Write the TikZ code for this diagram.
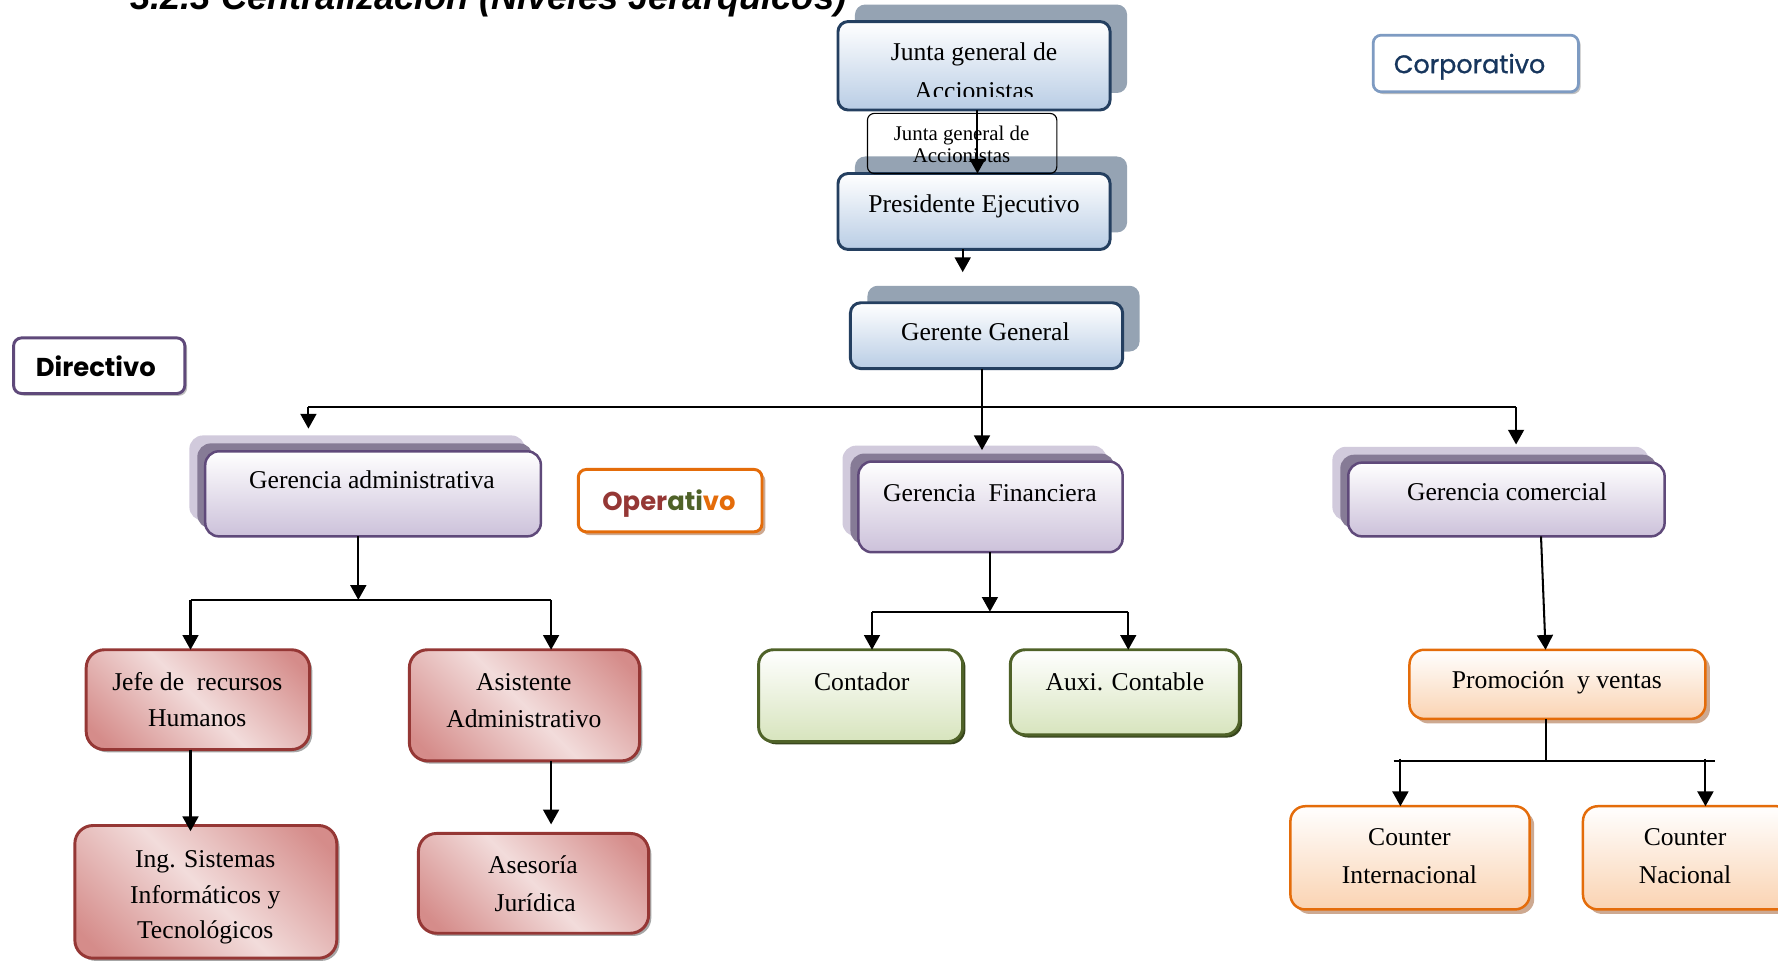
\documentclass[tikz,border=0pt]{standalone}
\usepackage{fontspec}
\setmainfont{Liberation Serif}
\newfontfamily\titlefont{Liberation Sans}
\newfontfamily\tagfont{Poppins}
\newfontfamily\tagsemi[FakeBold=1]{Poppins}
\usetikzlibrary{arrows.meta,shadows}

% palette
\definecolor{blueEdge}{HTML}{243F60}
\definecolor{blueFill}{HTML}{B9CDE5}
\definecolor{blueShade}{HTML}{95A3B3}
\definecolor{purpEdge}{HTML}{5F497A}
\definecolor{purpFill}{HTML}{CCC1DA}
\definecolor{purpDark}{HTML}{867B96}
\definecolor{purpLight}{HTML}{D1CADC}
\definecolor{redEdge}{HTML}{953735}
\definecolor{redLight}{HTML}{F2DCDB}
\definecolor{redDark}{HTML}{D58C8A}
\definecolor{greenEdge}{HTML}{4F6228}
\definecolor{greenFill}{HTML}{D7E4BD}
\definecolor{orangeEdge}{HTML}{E46C0A}
\definecolor{orangeFill}{HTML}{FAD3B2}
\definecolor{orangeShade}{HTML}{CDA991}
\definecolor{corpEdge}{HTML}{7E9BC2}
\definecolor{corpText}{HTML}{17365D}
\definecolor{operRed}{HTML}{953735}
\definecolor{operGreen}{HTML}{4F6228}

\pgfdeclarehorizontalshading{redsheen}{100bp}{color(0bp)=(redDark); color(20bp)=(redDark); color(50bp)=(redLight); color(80bp)=(redDark); color(100bp)=(redDark)}

% box from its corners: name, style, x1, y1, x2, y2
\newcommand\mkbox[6]{%
  \pgfmathsetmacro\bxc{(#3+#5)/2}\pgfmathsetmacro\byc{(#4+#6)/2}%
  \pgfmathsetmacro\bxw{(#5-#3)*0.5}\pgfmathsetmacro\bxh{(#6-#4)*0.5}%
  \node[#2, minimum width=\bxw pt, minimum height=\bxh pt] (#1) at (\bxc,\byc) {};}

\tikzset{
  every node/.style={inner sep=0pt, outer sep=0pt},
  bluebox/.style={draw=blueEdge, line width=1.3pt, rounded corners=4.5pt,
    top color=white, bottom color=blueFill,
    general shadow={shadow xshift=7.5pt, shadow yshift=7.5pt, fill=blueShade}},
  purplebox/.style={draw=purpEdge, line width=1.1pt, rounded corners=6pt,
    top color=white, bottom color=purpFill,
    general shadow={shadow xshift=-7pt, shadow yshift=7pt, fill=purpLight},
    general shadow={shadow xshift=-3.5pt, shadow yshift=3.5pt, fill=purpDark}},
  redbox/.style={draw=redEdge, line width=1.3pt, rounded corners=8pt,
    shade, shading=redsheen, shading angle=45,
    general shadow={shadow xshift=1.2pt, shadow yshift=-1.2pt, fill=black!35}},
  greenbox/.style={draw=greenEdge, line width=1.3pt, rounded corners=6.5pt,
    top color=white, bottom color=greenFill,
    general shadow={shadow xshift=1.2pt, shadow yshift=-1.2pt, fill=greenEdge!70!black}},
  orangebox/.style={draw=orangeEdge, line width=1.1pt, rounded corners=6.5pt,
    top color=white, bottom color=orangeFill,
    general shadow={shadow xshift=2pt, shadow yshift=-2pt, fill=orangeShade}},
  notebox/.style={draw=black, line width=0.5pt, rounded corners=3pt},
  tagbox/.style={line width=1.3pt, rounded corners=3.5pt, fill=white,
    general shadow={shadow xshift=1pt, shadow yshift=-1pt, fill=black!25}},
  txt/.style={anchor=base, font=\fontsize{11.3}{13}\selectfont},
  smalltxt/.style={anchor=base, font=\fontsize{9.2}{11}\selectfont},
  tagtxt/.style={anchor=base, font=\tagfont\fontsize{11.4}{13}\selectfont},
  link/.style={line width=0.9pt, draw=black},
  busline/.style={line width=0.7pt, draw=black},
  arr/.style={link, -{Triangle[width=7pt,length=6.5pt]}},
}

\begin{document}
\begin{tikzpicture}[x=0.5pt,y=-0.5pt]
\useasboundingbox (0,0) rectangle (1568,847);
\fill[white] (0,0) rectangle (1568,847);

% heading, partly above the page edge
\node[anchor=base west, font=\titlefont\bfseries\itshape\fontsize{16}{18}\selectfont] (title) at (115,8) {3.2.3 Centralización (Niveles Jerarquicos)};

% level tags
\mkbox{corp}{tagbox, draw=corpEdge, line width=1.2pt}{1211}{31}{1392}{81}
\node[tagtxt, font=\tagsemi\fontsize{11.2}{13}\selectfont, text=corpText] (corp-t) at (1296,64.5) {Corporativo};
\mkbox{dir}{tagbox, draw=purpEdge}{12}{298}{163}{347}
\node[tagtxt, font=\tagfont\bfseries\fontsize{11.4}{13}\selectfont] (dir-t) at (84.5,332) {Directivo};
\mkbox{oper}{tagbox, draw=orangeEdge, general shadow={shadow xshift=1.5pt, shadow yshift=-1.5pt, fill=orangeShade}}{510}{414}{672}{469}
\node[tagtxt, font=\tagfont\bfseries\fontsize{11.4}{13}\selectfont] (oper-t) at (590,450) {\textcolor{operRed}{Oper}\textcolor{operGreen}{ati}\textcolor{orangeEdge}{vo}};

% top of the hierarchy
\mkbox{junta}{bluebox}{739}{19}{979}{97}
\mkbox{pres}{bluebox}{739}{153}{979}{220}
\mkbox{gg}{bluebox}{750}{267}{990}{325}
\mkbox{jga}{notebox}{765}{100}{932}{153}

\node[txt] (junta-t1) at (859,53) {Junta general de};
\begin{scope}
  \clip (739,19) rectangle (979,85);
  \node[txt] (junta-t2) at (859,87.5) {Accionistas};
\end{scope}
\node[smalltxt] (jga-t1) at (848,123.5) {Junta general de};
\node[smalltxt] (jga-t2) at (848,143.5) {Accionistas};
\node[txt] (pres-t) at (859,187) {Presidente Ejecutivo};
\node[txt] (gg-t) at (869,300) {Gerente General};

% management
\mkbox{ga}{purplebox}{181}{398}{477}{473}
\mkbox{gf}{purplebox}{757}{407}{990}{487}
\mkbox{gc}{purplebox}{1189}{408}{1468}{473}
\node[txt] (ga-t) at (328,430.5) {Gerencia administrativa};
\node[txt] (gf-t) at (873,442.5) {Gerencia~ Financiera};
\node[txt] (gc-t) at (1329,441.5) {Gerencia comercial};

% administration
\mkbox{jefe}{redbox}{76}{573}{273}{661}
\mkbox{asist}{redbox}{361}{573}{564}{671}
\mkbox{ing}{redbox}{66}{728}{297}{845}
\mkbox{ases}{redbox}{369}{735}{572}{823}
\node[txt] (jefe-t1) at (174,608.5) {Jefe de~ recursos};
\node[txt] (jefe-t2) at (174,641) {Humanos};
\node[txt] (asist-t1) at (462,609) {Asistente};
\node[txt] (asist-t2) at (462,642) {Administrativo};
\node[txt] (ing-t1) at (181,765) {Ing. Sistemas};
\node[txt] (ing-t2) at (181,796.5) {Informáticos y};
\node[txt] (ing-t3) at (181,827.5) {Tecnológicos};
\node[txt] (ases-t1) at (470,770) {Asesoría};
\node[txt] (ases-t2) at (472,804) {Jurídica};

% finance
\mkbox{cont}{greenbox}{669}{573}{849}{654}
\mkbox{auxi}{greenbox}{891}{573}{1093}{648}
\node[txt] (cont-t) at (760,608.5) {Contador};
\node[txt] (auxi-t) at (992,608.5) {Auxi. Contable};

% sales
\mkbox{promo}{orangebox}{1243}{573}{1504}{634}
\mkbox{cint}{orangebox}{1138}{711}{1349}{802}
\mkbox{cnac}{orangebox}{1396}{711}{1580}{802}
\node[txt] (promo-t) at (1373,607) {Promoción~ y ventas};
\node[txt] (cint-t1) at (1243,746) {Counter};
\node[txt] (cint-t2) at (1243,779) {Internacional};
\node[txt] (cnac-t1) at (1486,746) {Counter};
\node[txt] (cnac-t2) at (1486,779) {Nacional};

% bus points of the connectors
\coordinate (presEnd) at (849,240);
\coordinate (busL) at (272,359);
\coordinate (busR) at (1337,359);
\coordinate (admL) at (168,529);
\coordinate (admM) at (316,529);
\coordinate (admR) at (486,529);
\coordinate (finL) at (769,539.5);
\coordinate (finM) at (873,539.5);
\coordinate (finR) at (995,539.5);
\coordinate (proL) at (1229,671);
\coordinate (proM) at (1363,671);
\coordinate (proR) at (1512,671);
\coordinate (proA) at (1235,669);
\coordinate (proB) at (1504,669);

% connectors
\draw[arr] ([xshift=1.5pt]junta.south) -- ([xshift=1.5pt]pres.north);
\draw[arr] (pres.south -| presEnd) -- (presEnd);
\draw[arr] ([xshift=-2pt]gg.south) -- ([xshift=-2pt,yshift=5pt]gg.south |- gf.north);
\draw[busline] (busL) -- (busR);
\draw[arr] (busL) -- ([yshift=10pt]busL |- ga.north);
\draw[arr] (busR) -- ([yshift=8pt]busR |- gc.north);

\draw[arr] (ga.south -| admM) -- (admM);
\draw[busline] (admL) -- (admR);
\draw[arr] (admL) -- (admL |- jefe.north);
\draw[arr] (admR) -- (admR |- asist.north);
\draw[arr] (jefe.south -| admL) -- ([yshift=-2.5pt]admL |- ing.north);
\draw[arr] (asist.south -| admR) -- ([yshift=4pt]admR |- ases.north);

\draw[arr] (gf.south -| finM) -- (finM);
\draw[busline] (finL) -- (finR);
\draw[arr] (finL) -- (finL |- cont.north);
\draw[arr] (finR) -- (finR |- auxi.north);

\draw[arr] ([xshift=15.25pt]gc.south) -- ([xshift=-5.25pt]promo.north);
\draw[link] (promo.south -| proM) -- (proM);
\draw[busline] (proL) -- (proR);
\draw[arr] (proA) -- (proA |- cint.north);
\draw[arr] (proB) -- (proB |- cnac.north);
\end{tikzpicture}
\end{document}
